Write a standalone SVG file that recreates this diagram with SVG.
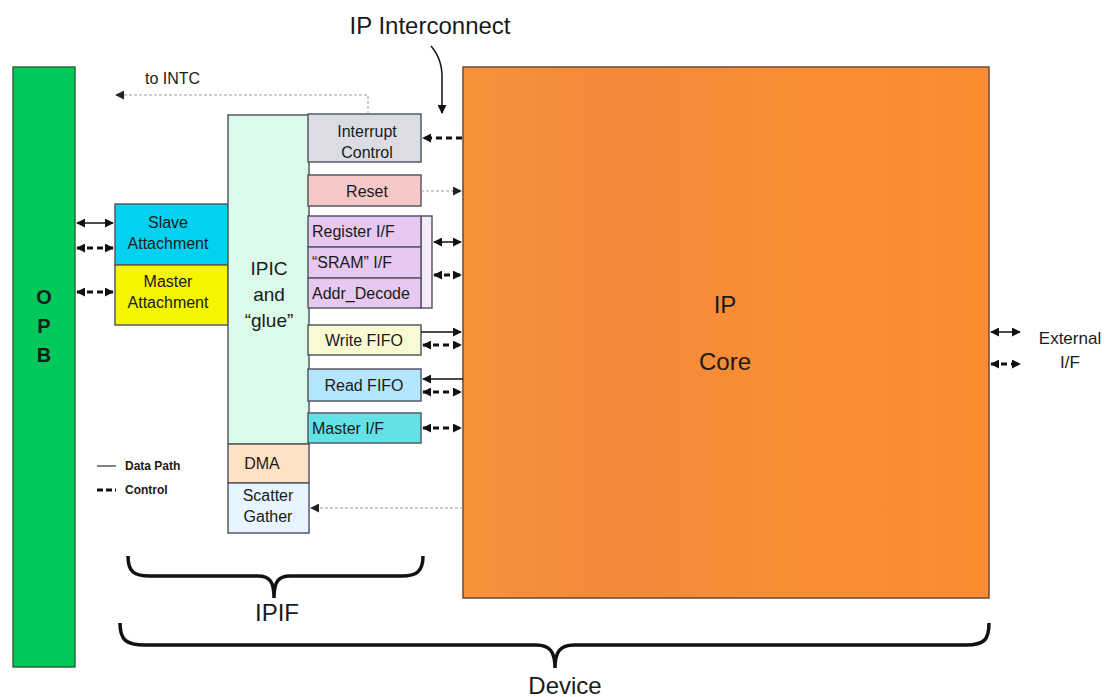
<svg xmlns="http://www.w3.org/2000/svg" width="1111" height="697" viewBox="0 0 1111 697">
  <defs>
    <style>
      text { font-family: "Liberation Sans", Arial, sans-serif; fill: #1a1a1a; }
      .lbl { font-size: 16px; text-anchor: middle; }
      .big { font-size: 24px; text-anchor: middle; }
      .box { stroke: #555a66; stroke-width: 1.5; }
      .data { stroke: #111; stroke-width: 1.5; fill: none; }
      .ctrl { stroke: #111; stroke-width: 3; stroke-dasharray: 6 4; fill: none; }
      .dot { stroke: #999; stroke-width: 1; stroke-dasharray: 3 2; fill: none; }
      .brace { stroke: #111; stroke-width: 3.5; fill: none; }
    </style>
    <marker id="ah" viewBox="0 0 10 10" refX="9" refY="5" markerWidth="9" markerHeight="9" markerUnits="userSpaceOnUse" orient="auto-start-reverse">
      <path d="M0,0 L10,5 L0,10 z" fill="#111"/>
    </marker>
    <marker id="ahs" viewBox="0 0 10 10" refX="9" refY="5" markerWidth="3" markerHeight="3" orient="auto-start-reverse">
      <path d="M0,0 L10,5 L0,10 z" fill="#111"/>
    </marker>
    <marker id="ahg" viewBox="0 0 10 10" refX="9" refY="5" markerWidth="9" markerHeight="9" markerUnits="userSpaceOnUse" orient="auto-start-reverse">
      <path d="M0,0 L10,5 L0,10 z" fill="#222"/>
    </marker>
    <linearGradient id="coreFill" x1="0" y1="0" x2="1" y2="0">
      <stop offset="0" stop-color="#f7923a"/>
      <stop offset="0.3" stop-color="#f2893a"/>
      <stop offset="0.6" stop-color="#f88e34"/>
      <stop offset="1" stop-color="#fb8c30"/>
    </linearGradient>
  </defs>

  <!-- OPB bus -->
  <g id="opb">
    <rect x="13" y="67" width="62" height="600" fill="#00c85a" stroke="#2d6b3a" stroke-width="1.5"/>
    <text x="44" y="304" font-size="20" font-weight="bold" text-anchor="middle">O</text>
    <text x="44" y="333" font-size="20" font-weight="bold" text-anchor="middle">P</text>
    <text x="44" y="362" font-size="20" font-weight="bold" text-anchor="middle">B</text>
  </g>

  <!-- IP core -->
  <g id="ip-core">
    <rect x="463" y="67" width="526" height="531" fill="url(#coreFill)" stroke="#6b4a3a" stroke-width="1.5"/>
    <text class="big" x="725" y="313">IP</text>
    <text class="big" x="725" y="370">Core</text>
  </g>

  <!-- attachments -->
  <g id="slave-attachment">
    <rect class="box" x="115" y="204" width="113" height="61" fill="#00d2f0"/>
    <text class="lbl" x="168" y="228">Slave</text>
    <text class="lbl" x="168" y="249">Attachment</text>
  </g>
  <g id="master-attachment">
    <rect class="box" x="115" y="265" width="113" height="60" fill="#f5f500"/>
    <text class="lbl" x="168" y="287">Master</text>
    <text class="lbl" x="168" y="308">Attachment</text>
  </g>

  <!-- IPIC and glue column -->
  <g id="ipic">
    <rect class="box" x="228" y="115" width="81" height="329" fill="#dcfaea"/>
    <text x="269" y="275" font-size="19" text-anchor="middle">IPIC</text>
    <text x="269" y="301" font-size="19" text-anchor="middle">and</text>
    <text x="269" y="327" font-size="19" text-anchor="middle">“glue”</text>
  </g>
  <g id="dma">
    <rect class="box" x="228" y="444" width="81" height="39" fill="#fde2c5"/>
    <text class="lbl" x="262" y="469">DMA</text>
  </g>
  <g id="scatter-gather">
    <rect class="box" x="228" y="483" width="81" height="50" fill="#e6f5ff"/>
    <text class="lbl" x="268" y="501">Scatter</text>
    <text class="lbl" x="268" y="522">Gather</text>
  </g>

  <!-- IPIF service blocks -->
  <g id="interrupt-control">
    <rect class="box" x="308" y="114" width="113" height="48" fill="#dcdce4"/>
    <text class="lbl" x="367" y="137">Interrupt</text>
    <text class="lbl" x="367" y="158">Control</text>
  </g>
  <g id="reset">
    <rect class="box" x="308" y="175" width="113" height="31" fill="#f8c8c8"/>
    <text class="lbl" x="367" y="197">Reset</text>
  </g>
  <g id="register-group">
    <rect class="box" x="421" y="216" width="11" height="92" fill="#f4eafa" stroke-width="1"/>
    <rect class="box" x="308" y="216" width="113" height="31" fill="#e6c8f0"/>
    <rect class="box" x="308" y="247" width="113" height="31" fill="#e6c8f0"/>
    <rect class="box" x="308" y="278" width="113" height="30" fill="#e6c8f0"/>
    <text x="312" y="237" font-size="16">Register I/F</text>
    <text x="312" y="268" font-size="16">“SRAM” I/F</text>
    <text x="312" y="299" font-size="16">Addr_Decode</text>
  </g>
  <g id="write-fifo">
    <rect class="box" x="308" y="325" width="113" height="30" fill="#fafad2"/>
    <text class="lbl" x="364" y="346">Write FIFO</text>
  </g>
  <g id="read-fifo">
    <rect class="box" x="308" y="369" width="113" height="32" fill="#b4e6ff"/>
    <text class="lbl" x="364" y="391">Read FIFO</text>
  </g>
  <g id="master-if">
    <rect class="box" x="308" y="413" width="113" height="30" fill="#64e1e6"/>
    <text x="312" y="434" font-size="16">Master I/F</text>
  </g>

  <!-- connectors -->
  <g id="connectors">
    <!-- OPB side -->
    <line class="data" x1="77" y1="223" x2="113" y2="223" marker-start="url(#ah)" marker-end="url(#ah)"/>
    <line class="ctrl" x1="77" y1="248" x2="113" y2="248" marker-start="url(#ahs)" marker-end="url(#ahs)"/>
    <line class="ctrl" x1="77" y1="292" x2="113" y2="292" marker-start="url(#ahs)" marker-end="url(#ahs)"/>
    <!-- interrupt to INTC -->
    <polyline class="dot" points="368,114 368,95 116,95" marker-end="url(#ahg)"/>
    <line class="ctrl" x1="462" y1="138" x2="423" y2="138" marker-end="url(#ahs)"/>
    <!-- reset -->
    <line class="dot" x1="421" y1="191" x2="461" y2="191" marker-end="url(#ahg)"/>
    <!-- register / sram -->
    <line class="data" x1="434" y1="242" x2="461" y2="242" marker-start="url(#ah)" marker-end="url(#ah)"/>
    <line class="ctrl" x1="434" y1="275" x2="461" y2="275" marker-start="url(#ahs)" marker-end="url(#ahs)"/>
    <!-- write FIFO -->
    <line class="data" x1="421" y1="332" x2="461" y2="332" marker-end="url(#ah)"/>
    <line class="ctrl" x1="423" y1="345" x2="461" y2="345" marker-start="url(#ahs)" marker-end="url(#ahs)"/>
    <!-- read FIFO -->
    <line class="data" x1="463" y1="379" x2="423" y2="379" marker-end="url(#ah)"/>
    <line class="ctrl" x1="423" y1="392" x2="461" y2="392" marker-start="url(#ahs)" marker-end="url(#ahs)"/>
    <!-- master I/F -->
    <line class="ctrl" x1="423" y1="428" x2="461" y2="428" marker-start="url(#ahs)" marker-end="url(#ahs)"/>
    <!-- scatter gather -->
    <line class="dot" x1="463" y1="508" x2="311" y2="508" marker-end="url(#ahg)"/>
    <!-- IP interconnect pointer -->
    <path class="data" d="M431,46 Q443,60 442,80 L442,113" marker-end="url(#ah)"/>
    <!-- external I/F -->
    <line class="data" x1="991" y1="332" x2="1020" y2="332" marker-start="url(#ah)" marker-end="url(#ah)"/>
    <line class="ctrl" x1="991" y1="364" x2="1020" y2="364" stroke-dasharray="4 3" marker-start="url(#ahs)" marker-end="url(#ahs)"/>
  </g>

  <!-- free labels -->
  <text x="145" y="84" font-size="16" fill="#333">to INTC</text>
  <text x="430" y="34" font-size="24" text-anchor="middle">IP Interconnect</text>
  <text x="1070" y="344" font-size="17" text-anchor="middle">External</text>
  <text x="1070" y="368" font-size="17" text-anchor="middle">I/F</text>

  <!-- legend -->
  <g id="legend">
    <line x1="97" y1="466" x2="116" y2="466" stroke="#333" stroke-width="1.2"/>
    <text x="125" y="470" font-size="12" font-weight="bold" fill="#333">Data Path</text>
    <line x1="97" y1="490" x2="116" y2="490" stroke="#111" stroke-width="3" stroke-dasharray="6 3"/>
    <text x="125" y="494" font-size="12" font-weight="bold" fill="#333">Control</text>
  </g>

  <!-- braces -->
  <g id="ipif-brace">
    <path class="brace" d="M128,556 C128,572 134,576 150,576 L258,576 C270,576 274,582 274,598 C274,582 278,576 290,576 L402,576 C416,576 423,572 423,556"/>
    <text class="big" x="277" y="621">IPIF</text>
  </g>
  <g id="device-brace">
    <path class="brace" d="M120,623 C120,640 126,645 145,645 L536,645 C550,645 555,652 555,668 C555,652 560,645 574,645 L966,645 C984,645 989,640 989,623"/>
    <text class="big" x="565" y="694">Device</text>
  </g>
</svg>
